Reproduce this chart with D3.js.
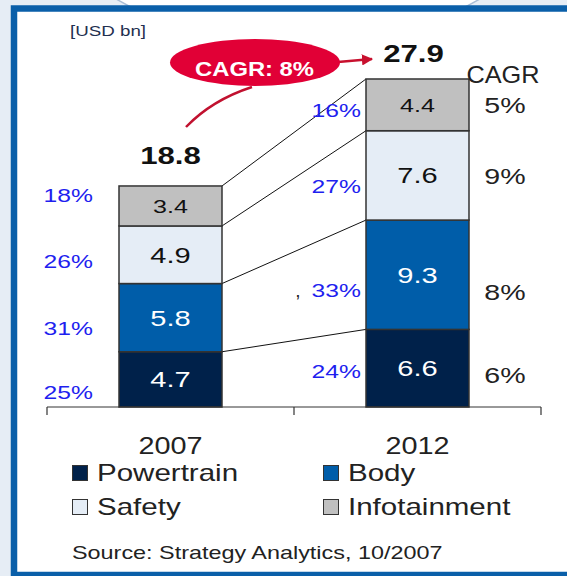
<!DOCTYPE html>
<html>
<head>
<meta charset="utf-8">
<title>Automotive electronics market, 2007 vs 2012</title>
<style>
  html, body { margin: 0; padding: 0; background: #e6edf5; }
  svg { display: block; }
  text { font-family: "Liberation Sans", Arial, sans-serif; }
</style>
<script src="https://cdnjs.cloudflare.com/ajax/libs/d3/7.8.5/d3.min.js"></script>
</head>
<body>
<div id="chart"></div>
<script>

// --- data -------------------------------------------------------------
var years    = ["2007", "2012"];
var segments = ["Powertrain", "Body", "Safety", "Infotainment"];
var values2007 = [4.7, 5.8, 4.9, 3.4];
var values2012 = [6.6, 9.3, 7.6, 4.4];
var totals     = ["18.8", "27.9"];
var share2007  = ["25%", "31%", "26%", "18%"];
var share2012  = ["24%", "33%", "27%", "16%"];
var segCagr    = ["6%", "8%", "9%", "5%"];
var totalCagr  = "CAGR: 8%";
var unitLabel  = "[USD bn]";
var sourceNote = "Source: Strategy Analytics, 10/2007";

// --- layout -----------------------------------------------------------
var W = 567, H = 576;
var colors = ["#00214a", "#005da9", "#e5edf6", "#c0c0c0"];
var labelInk = ["#ffffff", "#ffffff", "#111111", "#111111"];
var font = '"Liberation Sans", Arial, sans-serif';

// the source slide was stretched sideways, so text gets a horizontal scale
function label(g, x, y, s, size, opt) {
  opt = opt || {};
  return g.append("text")
    .attr("transform", "translate(" + x + "," + y + ") scale(" + (opt.sx || 1.25) + ",1)")
    .attr("text-anchor", opt.anchor || "middle")
    .style("font-size", size + "px")
    .style("font-weight", opt.bold ? "bold" : "normal")
    .style("fill", opt.fill || "#222")
    .text(s);
}

var svg = d3.select("#chart").append("svg")
  .attr("width", W).attr("height", H);

// slide decoration: backdrop arc and blue frame
svg.append("rect").attr("width", W).attr("height", H).attr("fill", "#e6edf5");
svg.append("ellipse")
  .attr("cx", 298).attr("cy", -60).attr("rx", 225).attr("ry", 100)
  .attr("fill", "#ffffff").attr("stroke", "#a9bdd6").attr("stroke-width", 1.5);
svg.append("rect")
  .attr("x", 14).attr("y", 8.5).attr("width", 620).attr("height", 566.5)
  .attr("fill", "#ffffff").attr("stroke", "#0a5fa9").attr("stroke-width", 6.5);

// --- scales -----------------------------------------------------------
var x = d3.scaleBand().domain(years).range([47, 541])
  .paddingInner(0.583).paddingOuter(0.2915);
var y = d3.scaleLinear().domain([0, 30]).range([407, 54.3]);
var bw = x.bandwidth();

var series = [values2007, values2012];
var stacks = series.map(function (vals, i) {
  var acc = 0;
  return vals.map(function (v, j) {
    var s = { year: years[i], seg: j, v: v, y0: acc, y1: acc + v };
    acc += v;
    return s;
  });
});

var plot = svg.append("g");

// connectors between the stack boundaries
var joins = d3.range(segments.length).map(function (j) {
  return [stacks[0][j].y1, stacks[1][j].y1];
});
plot.selectAll("line.join").data(joins).enter().append("line")
  .attr("class", "join")
  .attr("x1", x(years[0]) + bw).attr("y1", function (d) { return y(d[0]); })
  .attr("x2", x(years[1])).attr("y2", function (d) { return y(d[1]); })
  .attr("stroke", "#111").attr("stroke-width", 1);

// bars
var all = stacks[0].concat(stacks[1]);
plot.selectAll("rect.seg").data(all).enter().append("rect")
  .attr("class", "seg")
  .attr("x", function (d) { return x(d.year); })
  .attr("y", function (d) { return y(d.y1); })
  .attr("width", bw)
  .attr("height", function (d) { return y(d.y0) - y(d.y1); })
  .attr("fill", function (d) { return colors[d.seg]; })
  .attr("stroke", "#333").attr("stroke-width", 1.5);

// values inside the bars
all.forEach(function (d) {
  var small = d.seg === 3;
  var fs = small ? 19 : 22;
  var mid = (y(d.y0) + y(d.y1)) / 2;
  label(plot, x(d.year) + bw / 2, mid + fs * 0.36, d.v.toFixed(1), fs,
        { fill: labelInk[d.seg], sx: 1.32 });
});

// totals
years.forEach(function (yr, i) {
  var top = stacks[i][segments.length - 1].y1;
  label(plot, x(yr) + bw / 2 - (i ? 4 : 0), y(top) - (i ? 17 : 22), totals[i], 24,
        { bold: true, fill: "#111", sx: 1.3 });
});

// shares (blue) left of each bar
var shares = [share2007, share2012];
var shareRight = [93, 361];
var shareNudge = [[20, 17.5, 13.5, -3.5], [10, 22, 18, 12]];
years.forEach(function (yr, i) {
  stacks[i].forEach(function (d, j) {
    var mid = (y(d.y0) + y(d.y1)) / 2;
    label(plot, shareRight[i], mid + shareNudge[i][j], shares[i][j], 19,
          { anchor: "end", fill: "#1f1fef", sx: 1.3 });
  });
});
label(plot, 298, y(stacks[1][1].y0 + stacks[1][1].v / 2) + 22, ",", 19, { sx: 1 });

// per-segment CAGR to the right of 2012
label(plot, 503, 83, "CAGR", 23, { sx: 1.1 });
var cagrNudge = [15, 25, 9, 8];
stacks[1].forEach(function (d, j) {
  var mid = (y(d.y0) + y(d.y1)) / 2;
  label(plot, 505, mid + cagrNudge[j], segCagr[j], 22, { sx: 1.3 });
});

// axis: baseline with ticks at the band edges, year labels centred
var axisY = y(0);
plot.append("line")
  .attr("x1", x.range()[0]).attr("x2", x.range()[1])
  .attr("y1", axisY).attr("y2", axisY)
  .attr("stroke", "#333").attr("stroke-width", 1);
var edges = [x.range()[0], x.range()[0] + x.step(), x.range()[1]];
plot.selectAll("line.tick").data(edges).enter().append("line")
  .attr("class", "tick")
  .attr("x1", function (d) { return d; }).attr("x2", function (d) { return d; })
  .attr("y1", axisY).attr("y2", axisY + 8)
  .attr("stroke", "#333").attr("stroke-width", 1.2);
years.forEach(function (yr) {
  label(plot, x(yr) + bw / 2, 454, yr, 24, { sx: 1.2 });
});

// total CAGR callout
var callout = svg.append("g");
callout.append("defs").append("marker")
  .attr("id", "head").attr("viewBox", "0 0 10 10")
  .attr("refX", 9).attr("refY", 5)
  .attr("markerWidth", 4.5).attr("markerHeight", 4.5)
  .attr("orient", "auto")
  .append("path").attr("d", "M0,0 L10,5 L0,10 z").attr("fill", "#c8102e");
callout.append("path")
  .attr("d", "M186,127 Q212,100 252,87")
  .attr("fill", "none").attr("stroke", "#c1112f").attr("stroke-width", 2.5);
callout.append("line")
  .attr("x1", 338).attr("y1", 62).attr("x2", 372).attr("y2", 59)
  .attr("stroke", "#c8102e").attr("stroke-width", 2.5)
  .attr("marker-end", "url(#head)");
callout.append("ellipse")
  .attr("cx", 255).attr("cy", 62.5).attr("rx", 85).attr("ry", 23.5)
  .attr("fill", "#e10036");
label(callout, 254.5, 76, totalCagr, 20, { bold: true, fill: "#ffffff", sx: 1.19 });

// unit
label(svg, 70, 36, unitLabel, 15, { anchor: "start", fill: "#1f3050", sx: 1.25 });

// legend
var legend = svg.append("g");
segments.forEach(function (name, j) {
  var lx = j % 2 ? 323 : 72;
  var ly = j < 2 ? 465 : 499;
  legend.append("rect")
    .attr("x", lx + 0.5).attr("y", ly + 0.5).attr("width", 15).attr("height", 15)
    .attr("fill", colors[j]).attr("stroke", "#333").attr("stroke-width", 1);
  label(legend, lx + 25, ly + 16, name, 24, { anchor: "start", sx: 1.23 });
});

// source
label(svg, 72, 559, sourceNote, 18, { anchor: "start", sx: 1.3 });

</script>
</body>
</html>
